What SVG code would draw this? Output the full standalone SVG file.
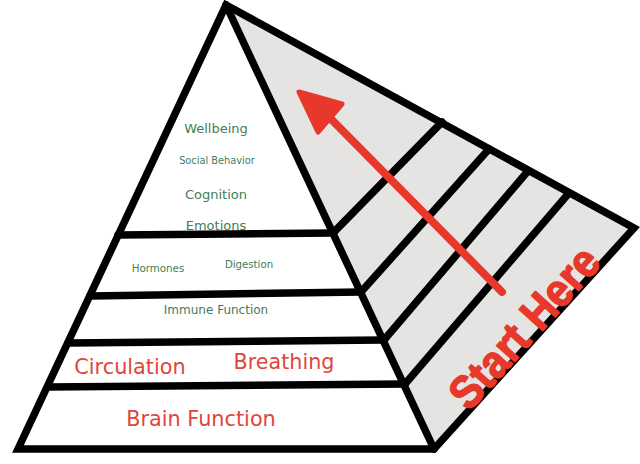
<svg xmlns="http://www.w3.org/2000/svg" width="640" height="464" viewBox="0 0 640 464">
  <style>
    .edge { fill: none; stroke: #000; stroke-width: 7.5; stroke-linejoin: miter; stroke-linecap: round; }
    .green { font-family: "DejaVu Sans", Verdana, sans-serif; fill: #3f7d5b; text-anchor: middle; }
    .red { font-family: "DejaVu Sans", Verdana, sans-serif; fill: #e0463b; text-anchor: middle; }
    .hand { font-family: "Liberation Sans", Arial, sans-serif; font-weight: bold; fill: #e8382b; stroke: #e8382b; stroke-width: 1.5; stroke-linejoin: round; text-anchor: middle; }
  </style>
  <rect width="640" height="464" fill="#ffffff"/>

  <g id="side-face">
    <polygon points="226,5 634,228 434,449" fill="#e5e4e2"/>
  </g>
  <g id="front-face">
    <polygon points="226,5 434,449 18,449" fill="#ffffff"/>
  </g>

  <g id="connectors">
    <!-- front bands -->
    <line class="edge" x1="118" y1="235" x2="333" y2="233"/>
    <line class="edge" x1="90" y1="296" x2="361" y2="292"/>
    <line class="edge" x1="68" y1="343" x2="384" y2="340"/>
    <line class="edge" x1="48" y1="387" x2="405" y2="384"/>
    <!-- side stripes -->
    <line class="edge" x1="333" y1="233" x2="442" y2="122"/>
    <line class="edge" x1="361" y1="292" x2="489" y2="149"/>
    <line class="edge" x1="384" y1="340" x2="528" y2="171"/>
    <line class="edge" x1="405" y1="384" x2="569" y2="193"/>
    <!-- outline -->
    <line class="edge" x1="226" y1="5" x2="434" y2="449"/>
    <polygon class="edge" points="226,5 634,228 434,449 18,449"/>
  </g>

  <g id="top-level">
    <text class="green" x="216" y="133" font-size="13">Wellbeing</text>
    <text class="green" x="217" y="164" font-size="9.8">Social Behavior</text>
    <text class="green" x="216" y="199" font-size="13">Cognition</text>
    <text class="green" x="216" y="230" font-size="13">Emotions</text>
  </g>
  <g id="level-hormones">
    <text class="green" x="158" y="272" font-size="10.3">Hormones</text>
    <text class="green" x="249" y="268" font-size="10.2">Digestion</text>
  </g>
  <g id="level-immune">
    <text class="green" x="216" y="314" font-size="12">Immune Function</text>
  </g>
  <g id="level-vital">
    <text class="red" x="130" y="374" font-size="20.8">Circulation</text>
    <text class="red" x="284" y="369" font-size="20.7">Breathing</text>
  </g>
  <g id="level-brain">
    <text class="red" x="201" y="426" font-size="20.8">Brain Function</text>
  </g>

  <g id="arrow">
    <line x1="502" y1="292" x2="332" y2="120" stroke="#e8382b" stroke-width="8" stroke-linecap="round"/>
    <polygon points="299,92 342,104 318,132" fill="#e8382b" stroke="#e8382b" stroke-width="5" stroke-linejoin="round"/>
  </g>

  <g id="start-here">
    <text class="hand" transform="translate(536,338) rotate(-48)" font-size="46" textLength="200" lengthAdjust="spacingAndGlyphs">Start Here</text>
  </g>
</svg>
